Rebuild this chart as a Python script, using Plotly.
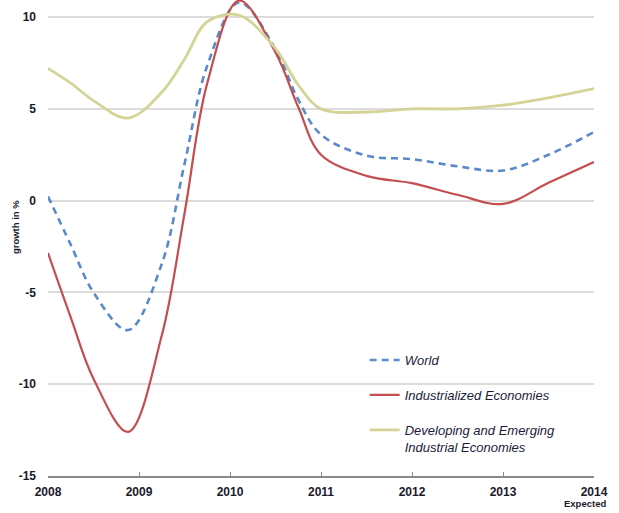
import plotly.graph_objects as go

periods = [2008.0, 2008.25, 2008.5, 2008.88, 2009.25, 2009.5, 2009.75,
           2010.1, 2010.5, 2010.75, 2011.0,
           2011.5, 2012.0, 2012.5, 2013.0, 2013.5, 2014.0]

world = [0.23, -2.4, -5.0, -7.05, -3.45, 2.0, 7.35,
         10.8, 8.24, 5.5, 3.6,
         2.45, 2.26, 1.87, 1.64, 2.5, 3.74]
industrialized = [-2.85, -6.36, -9.7, -12.6, -7.35, -0.7, 6.4,
                  10.9, 8.07, 5.1, 2.5,
                  1.35, 0.95, 0.32, -0.18, 0.97, 2.1]
developing = [7.2, 6.4, 5.45, 4.5, 5.9, 7.7, 9.75,
              10.1, 8.28, 6.3, 5.0,
              4.83, 5.0, 5.0, 5.2, 5.6, 6.1]

year_ticks = [2008, 2009, 2010, 2011, 2012, 2013, 2014]
year_labels = ["2008", "2009", "2010", "2011", "2012", "2013", "2014"]
last_tick_note = "Expected"
y_ticks = [10, 5, 0, -5, -10, -15]
y_labels = ["10", "5", "0", "-5", "-10", "-15"]

series_names = ["World", "Industrialized Economies",
                "Developing and Emerging<br>Industrial Economies"]

fig = go.Figure()
fig.add_trace(go.Scatter(
    x=periods, y=world, mode="lines", name=series_names[0], legendgroup="a",
    line=dict(color="#5a8acb", width=2.6, dash="7px,5px", shape="spline", smoothing=1.0)))
fig.add_trace(go.Scatter(
    x=periods, y=industrialized, mode="lines", name=series_names[1], legendgroup="b",
    line=dict(color="#c44d4d", width=2.2, shape="spline", smoothing=1.0)))
fig.add_trace(go.Scatter(
    x=periods, y=developing, mode="lines", name=series_names[2], legendgroup="c",
    line=dict(color="#d3d496", width=2.8, shape="spline", smoothing=1.0)))

font_family = "Liberation Sans, Arial, sans-serif"
tick_font = dict(family=font_family, size=12, color="#1a1a2a", weight="bold")

fig.update_layout(
    width=619, height=513,
    margin=dict(l=48, r=25, t=0, b=37, autoexpand=False),
    paper_bgcolor="white", plot_bgcolor="white",
    showlegend=True,
    legend=dict(
        x=0.58, y=0.275, xanchor="left", yanchor="top",
        bgcolor="rgba(0,0,0,0)", itemwidth=30, tracegroupgap=15,
        traceorder="grouped", valign="top",
        font=dict(family=font_family, size=13, color="#1b1b3a", style="italic")),
    xaxis=dict(
        range=[2008, 2014], tickvals=year_ticks, ticktext=year_labels,
        automargin=False, ticklabeloverflow="allow",
        showgrid=False, zeroline=False, showline=True, linecolor="#8a8a8a",
        linewidth=1.5, ticks="inside", ticklen=4, tickcolor="#8a8a8a",
        tickfont=tick_font, ticklabelstandoff=4),
    yaxis=dict(
        range=[-15, 10.93], tickvals=y_ticks, ticktext=y_labels, automargin=False,
        showgrid=True, gridcolor="#dcdcdc", gridwidth=2, zeroline=False,
        showline=False, ticks="", ticklabelstandoff=11,
        tickfont=tick_font),
    annotations=[
        dict(text="growth in %", xref="paper", yref="paper",
             x=-0.0604, y=0.523, xanchor="center", yanchor="middle",
             textangle=-90, showarrow=False,
             font=dict(family=font_family, size=9.5, color="#1a1a2a", weight="bold")),
        dict(text=last_tick_note, xref="x", yref="paper",
             x=year_ticks[-1], y=0, xanchor="right", yanchor="top",
             xshift=14, yshift=-20, showarrow=False,
             font=dict(family=font_family, size=9.5, color="#1a1a2a", weight="bold")),
    ],
)

fig.write_html("out.html",
               config={"displayModeBar": False},
               post_script="document.body.style.margin='0';"
                           "document.body.style.overflow='hidden';")
